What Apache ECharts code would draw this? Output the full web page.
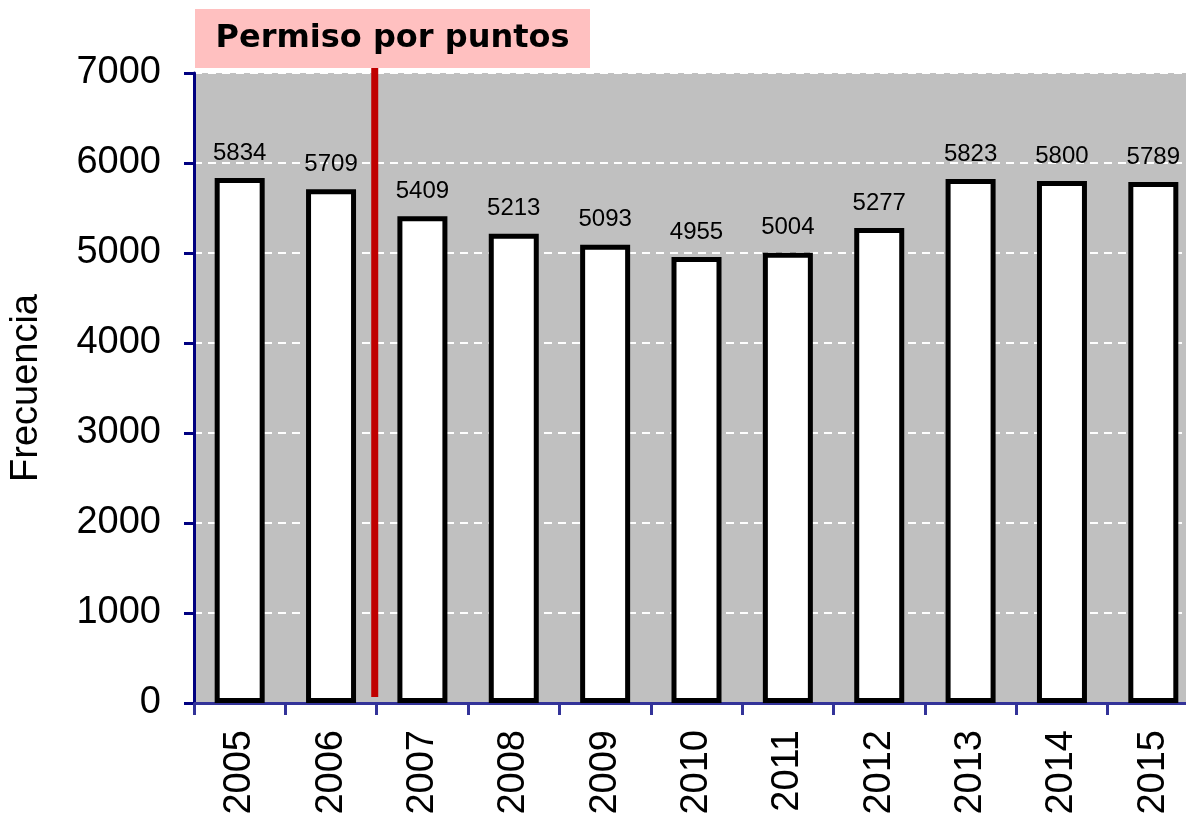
<!DOCTYPE html>
<html>
<head>
<meta charset="utf-8">
<script src="https://cdn.jsdelivr.net/npm/echarts@6/dist/echarts.min.js"></script>
<style>
  html, body { margin: 0; padding: 0; overflow: hidden; background: #fff; }
  #main { width: 1200px; height: 818px; }
</style>
</head>
<body>
<div id="main"></div>
<script>
const years = ['2005', '2006', '2007', '2008', '2009', '2010', '2011', '2012', '2013', '2014', '2015'];
const counts = [5834, 5709, 5409, 5213, 5093, 4955, 5004, 5277, 5823, 5800, 5789];
const yTicks = { min: 0, max: 7000, interval: 1000 };
const noteText = 'Permiso por puntos';
const noteAfterIndex = 1; // the line sits between 2006 and 2007

const chart = echarts.init(document.getElementById('main'));

const option = {
  animation: false,
  textStyle: { fontFamily: '"Liberation Sans", Arial, sans-serif' },
  grid: {
    left: 193,
    right: 1,
    top: 73,
    bottom: 115,
    show: true,
    backgroundColor: '#C0C0C0',
    borderWidth: 0
  },
  xAxis: {
    type: 'category',
    data: years,
    axisLine: { lineStyle: { color: '#333399', width: 3 } },
    axisTick: { show: true, length: 12, lineStyle: { color: '#333399', width: 3 } },
    axisLabel: {
      rotate: 90,
      margin: 27,
      fontSize: 38,
      color: '#000',
      fontFamily: '"Liberation Sans", Arial, sans-serif'
    },
    splitLine: { show: false }
  },
  yAxis: {
    type: 'value',
    min: yTicks.min,
    max: yTicks.max,
    interval: yTicks.interval,
    name: 'Frecuencia',
    nameLocation: 'middle',
    nameRotate: 90,
    nameGap: 148,
    nameTextStyle: { fontSize: 38, color: '#000', fontFamily: '"Liberation Sans", Arial, sans-serif' },
    axisLine: { show: true, lineStyle: { color: '#000080', width: 3 } },
    axisTick: { show: true, length: 10, lineStyle: { color: '#000080', width: 3 } },
    axisLabel: { fontSize: 38, color: '#000', margin: 33, formatter: v => String(v) },
    splitLine: { show: true, lineStyle: { color: '#ffffff', width: 2, type: [8, 6] } }
  },
  series: [{
    type: 'bar',
    data: counts,
    barWidth: 50,
    itemStyle: { color: '#ffffff', borderColor: '#000000', borderWidth: 5 },
    label: {
      show: true,
      position: 'top',
      distance: 13,
      fontSize: 24,
      color: '#000'
    }
  }]
};

chart.setOption(option);

// annotation: red marker line between categories and the pink note box
const xa = chart.convertToPixel({ xAxisIndex: 0 }, noteAfterIndex);
const xb = chart.convertToPixel({ xAxisIndex: 0 }, noteAfterIndex + 1);
const lineX = (xa + xb) / 2 - 2;
const yTop = chart.convertToPixel({ yAxisIndex: 0 }, yTicks.max);
const yBottom = chart.convertToPixel({ yAxisIndex: 0 }, yTicks.min);

chart.setOption({
  graphic: [
    {
      type: 'line',
      shape: { x1: lineX, y1: yTop - 5, x2: lineX, y2: yBottom - 6 },
      style: { stroke: '#C00000', lineWidth: 7 },
      z: 100
    },
    {
      type: 'rect',
      shape: { x: 195, y: 9, width: 395, height: yTop - 5 - 9 },
      style: { fill: '#FFC0C0' },
      z: 100
    },
    {
      type: 'text',
      x: 195 + 395 / 2,
      y: 9 + (yTop - 5 - 9) / 2,
      style: {
        text: noteText,
        fontSize: 32,
        fontWeight: 'bold',
        fontFamily: '"DejaVu Sans", Verdana, sans-serif',
        fill: '#000',
        align: 'center',
        verticalAlign: 'middle'
      },
      z: 101
    }
  ]
});
</script>
</body>
</html>
